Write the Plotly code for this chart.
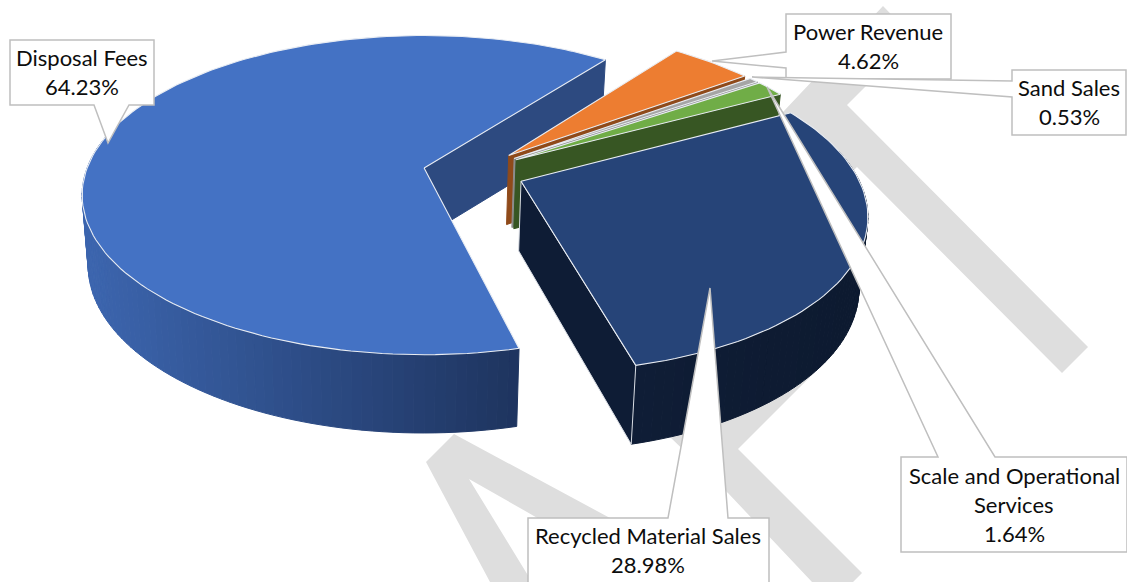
import math
import plotly.graph_objects as go

# Revenue breakdown, clockwise from the start angle
categories = ["Disposal Fees", "Power Revenue", "Sand Sales",
              "Scale and Operational Services", "Recycled Material Sales"]
shares = [64.23, 4.62, 0.53, 1.64, 28.98]
wrapped_names = [["Disposal Fees"], ["Power Revenue"], ["Sand Sales"],
                 ["Scale and Operational", "Services"], ["Recycled Material Sales"]]

top_colors = ["#4472c4", "#ed7d31", "#a5a5a5", "#70ad47", "#264478"]
cut_colors = ["#2d4a80", "#8f4a1a", "#8c8c8c", "#375623", "#0e1c35"]
rim_left = [(60, 101, 174), None, None, None, (15, 29, 54)]
rim_right = [(30, 52, 95), None, None, None, (13, 26, 48)]

# Tilted-disc projection
X0, Y0 = 424.0, 168.0
SCALE_X, SCALE_Y = 337.0, 155.0
TILT = 0.17
START_ANGLE = 166.4
EXPLODE = 0.15
HUB = (0.147, -0.023)
# The big slice sits slightly lower and the pulled-out ones are slightly smaller
SLICE_DV = [-0.008, 0, 0, 0, 0]
SLICE_RADIUS = [1.0, 0.99, 0.99, 0.99, 0.99]


def project(u, v):
    w = 1 + TILT * v
    return X0 + SCALE_X * u / w, Y0 - SCALE_Y * v / w


def drop(x, y):
    """Point on the lower face directly under a point on the upper face."""
    return x + 0.0191 * (397 - x), y + 69 + max(0.0, y - 169) * 0.05


def polar(origin, deg, radius=1.0):
    a = math.radians(deg)
    return project(origin[0] + radius * math.sin(a), origin[1] + radius * math.cos(a))


def polygon(points, fill, line=None, width=1.0):
    xs = [p[0] for p in points] + [points[0][0]]
    ys = [p[1] for p in points] + [points[0][1]]
    return go.Scatter(x=xs, y=ys, mode="lines", fill="toself", fillcolor=fill,
                      line=dict(color=line or fill, width=width),
                      hoverinfo="skip", showlegend=False)


fig = go.Figure()
total = sum(shares)
angle = START_ANGLE
for i, share in enumerate(shares):
    sweep = share / total * 360
    a0, a1 = angle, angle + sweep
    angle = a1
    mid = math.radians((a0 + a1) / 2)
    origin = (HUB[0] + EXPLODE * math.sin(mid),
              HUB[1] + EXPLODE * math.cos(mid) + SLICE_DV[i])
    steps = max(2, int(sweep / 1.5))
    arc = [a0 + (a1 - a0) * k / steps for k in range(steps + 1)]
    rim = [polar(origin, a, SLICE_RADIUS[i]) for a in arc]
    apex = project(*origin)

    # curved outer wall, shaded left to right
    if rim_left[i]:
        for p, q, a, b in zip(rim, rim[1:], arc, arc[1:]):
            if math.cos(math.radians((a + b) / 2)) < 0.2:
                t = min(1, max(0, ((p[0] + q[0]) / 2 - 88) / (517 - 88)))
                if i == 4:
                    t = min(1, max(0, ((p[0] + q[0]) / 2 - 633) / 225))
                col = [round(l + (r - l) * t) for l, r in zip(rim_left[i], rim_right[i])]
                c = f"rgb({col[0]},{col[1]},{col[2]})"
                fig.add_trace(polygon([p, q, drop(*q), drop(*p)], c, width=1))

    # flat wall on the clockwise cut of the slice
    end = rim[-1]
    fig.add_trace(polygon([apex, end, drop(*end), drop(*apex)], cut_colors[i],
                          line="#d9dde4" if i == 4 else None, width=1))

    # upper face
    fig.add_trace(polygon([apex] + rim, top_colors[i], line="#e9edf3", width=1.1))

# Background lettering
WM = "#dedede"
wm_paths = [
    [(883, 6), (914, 38), (847, 105), (1088, 347), (1062, 373), (857, 167), (760, 262), (700, 200)],
    [(835, 352), (738, 449), (862, 573), (853, 582), (812, 582), (728, 493), (670, 437), (760, 360), (805, 322)],
    [(454, 434), (426, 462), (490, 582), (532, 582), (469, 479), (527, 512), (610, 560), (610, 518)],
]
shapes = []
for pts in wm_paths:
    d = "M" + " L".join(f"{x},{y}" for x, y in pts) + " Z"
    shapes.append(dict(type="path", path=d, fillcolor=WM, line=dict(width=0), layer="below"))

# Callouts: box, pointer base on one side and pointer tip
callouts = [
    dict(box=(10, 40, 154, 105), path=[(94, 105), (108, 143), (129, 105)], side="bottom", lines=(82, 57)),
    dict(box=(786, 14, 951, 79), path=[(786, 68), (712, 61), (786, 52)], side="left", lines=(868, 31)),
    dict(box=(1012, 70, 1126, 135), path=[(1012, 97), (752, 77), (1012, 81)], side="left", lines=(1069, 87)),
    dict(box=(901, 457, 1127, 552), path=[(938, 457), (767, 87), (995, 457)], side="top", lines=(1014, 475)),
    dict(box=(528, 518, 769, 590), path=[(668, 518), (710, 288), (728, 518)], side="top", lines=(648, 535)),
]
annotations = []
for names, share, c in zip(wrapped_names, shares, callouts):
    x0, y0, x1, y1 = c["box"]
    p = c["path"]
    if c["side"] == "top":
        outline = [(x0, y0), *p, (x1, y0), (x1, y1), (x0, y1)]
    elif c["side"] == "bottom":
        outline = [(x0, y0), (x1, y0), (x1, y1), *reversed(p), (x0, y1)]
    else:
        outline = [(x0, y0), (x1, y0), (x1, y1), (x0, y1), *p]
    d = "M" + " L".join(f"{x},{y}" for x, y in outline) + " Z"
    shapes.append(dict(type="path", path=d, fillcolor="white", line=dict(color="#bfbfbf", width=1.5)))
    cx, cy = c["lines"]
    for n, text in enumerate(names + [f"{share:.2f}%"]):
        annotations.append(dict(x=cx, y=cy + 29 * n, xref="x", yref="y", text=text, showarrow=False,
                                xanchor="center", yanchor="middle",
                                font=dict(family="Lato", size=22, color="#0d0d0d")))

fig.update_layout(
    width=1127, height=582, autosize=False,
    margin=dict(l=0, r=0, t=0, b=0),
    paper_bgcolor="white", plot_bgcolor="white",
    xaxis=dict(range=[0, 1127], visible=False, fixedrange=True),
    yaxis=dict(range=[582, 0], visible=False, fixedrange=True),
    shapes=shapes, annotations=annotations, showlegend=False,
)
fig.write_html("out.html", config={"displayModeBar": False})
